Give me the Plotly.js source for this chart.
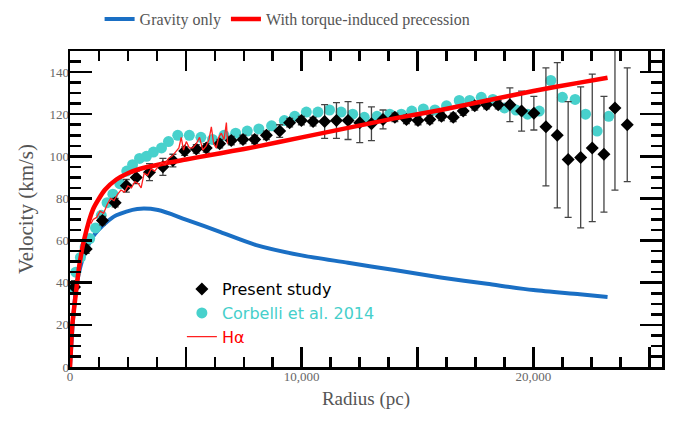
<!DOCTYPE html>
<html>
<head>
<meta charset="utf-8">
<script src="https://cdn.plot.ly/plotly-3.0.1.min.js"></script>
<style>
html,body{margin:0;padding:0;background:#fff;}
#wrap{position:relative;width:676px;height:427px;}
#chart,#frame{position:absolute;left:0;top:0;width:676px;height:427px;}
#frame{pointer-events:none;z-index:5;}
</style>
</head>
<body>
<div id="wrap"><div id="chart"></div><div id="frame"></div></div>
<script>
// ---- data ----
var gravityRadius   = [0, 150, 300, 600, 1000, 1500, 2000, 2900, 3800, 5000, 6500, 8000, 10000, 12000, 14000, 16000, 18000, 20000, 22000, 23200];
var gravityVelocity = [0, 25, 40, 53, 62, 68, 72, 75, 74.5, 70, 64, 58, 53, 49.5, 46, 42.5, 39.5, 36.5, 34.5, 33.2];

var torqueRadius   = [0, 100, 200, 400, 600, 1000, 1500, 2000, 2500, 3000, 4000, 5000, 6000, 7000, 8000, 10000, 12000, 14000, 16000, 18000, 20000, 22000, 23200];
var torqueVelocity = [0, 20, 30, 48, 60, 75, 84, 89, 92, 94, 96.5, 98.5, 100.5, 102.5, 104.5, 109, 113.5, 118, 122, 126.5, 131, 135, 137.3];

var presentRadius   = [194, 700, 1400, 1950, 2430, 2860, 3430, 4010, 4440, 4950, 5450, 5880, 6460, 6960, 7465, 7970, 8475, 9050, 9480, 9985, 10490, 10990, 11500, 12000, 12505, 13010, 13510, 14020, 14520, 15020, 15530, 16030, 16540, 16970, 17470, 17980, 18480, 18985, 19490, 20020, 20540, 21030, 21500, 22040, 22540, 23045, 23520, 24050];
var presentVelocity = [38, 56, 69.5, 78, 86, 90, 92.5, 95, 98, 102.5, 103.5, 104, 106, 107.5, 108, 108, 110, 112, 116, 117, 116.5, 116.5, 117, 117, 116, 115.5, 117.5, 118.5, 117.5, 117, 117.5, 119, 118.5, 121.5, 124, 124.5, 124.5, 124.5, 121.5, 120.5, 114, 110, 98.5, 99.5, 104, 101, 123, 115];
var presentError    = [3, 2, 2, 2, 3, 3, 4, 4, 3, 2, 2, 2, 2, 2, 2, 2, 2, 3, 2, 2, 2, 8, 8.5, 9, 9.5, 8, 4.5, 2, 2, 2, 2, 2, 2, 2, 2, 2, 2, 8, 9.5, 8, 28, 34.5, 27.5, 33.5, 35, 27.5, 39, 27];

var corbelliRadius   = [52, 250, 450, 650, 850, 1100, 1350, 1600, 1850, 2150, 2450, 2700, 3000, 3300, 3600, 3950, 4250, 4650, 5150, 5650, 6150, 6650, 7150, 7650, 8150, 8700, 9250, 9700, 10200, 10700, 11200, 11700, 12200, 12700, 13250, 13800, 14300, 14750, 15250, 15750, 16250, 16800, 17250, 17750, 18250, 18750, 19250, 19750, 20250, 20750, 21250, 21800, 22250, 22750, 23250];
var corbelliVelocity = [37, 45, 52, 57, 61, 66, 72, 78, 82, 87, 93, 96, 99, 100, 102, 104, 107, 110, 110, 109, 108, 110, 111, 112, 113, 114.5, 117, 119, 121, 121, 122, 121, 120, 118.5, 119, 120, 120, 121.5, 122.5, 122, 124, 126.5, 126.5, 128, 127, 123, 122, 120, 121.5, 136, 128, 127, 120, 112, 119];

var haRadius   = [900, 1000, 1150, 1300, 1450, 1600, 1750, 1900, 2050, 2200, 2350, 2500, 2650, 2800, 2950, 3070, 3200, 3350, 3500, 3650, 3800, 3950, 4100, 4250, 4400, 4550, 4700, 4800, 4900, 5020, 5150, 5300, 5450, 5590, 5730, 5880, 6000, 6100, 6200, 6310, 6420, 6530, 6650, 6750, 6800];
var haVelocity = [68, 70, 71, 74, 73, 77, 80, 79, 82, 84, 83, 86, 85, 88, 87, 85, 92, 91, 94, 93, 95, 97, 96, 99, 100, 102, 104, 109, 103, 107, 104, 104, 106, 109, 103, 105, 108, 114, 106, 104, 109, 111, 108, 116, 106];

var xTickVals = [0, 5000, 10000, 15000, 20000, 25000];
var xTickText = ['0', '', '10,000', '', '20,000', ''];

var seriesNames = ['Gravity only', 'With torque-induced precession', 'Present study', 'Corbelli et al. 2014', 'H\u03b1'];

var xRange = [0, 25550];
var yRange = [0, 150];

// ---- traces ----
var serif = 'Liberation Serif, Times New Roman, serif';
var sans = 'DejaVu Sans, sans-serif';
var traces = [
  {x: gravityRadius, y: gravityVelocity, name: seriesNames[0], type: 'scatter', mode: 'lines',
   line: {color: '#1a6fc4', width: 4, shape: 'spline', smoothing: 0.8}, legend: 'legend', legendrank: 1},
  {x: corbelliRadius, y: corbelliVelocity, name: '<span style="color:#46cfcb">' + seriesNames[3] + '</span>',
   type: 'scatter', mode: 'markers', marker: {color: '#48d1cc', size: 11, symbol: 'circle'},
   legend: 'legend2', legendrank: 2},
  {x: presentRadius, y: presentVelocity, name: seriesNames[2], type: 'scatter', mode: 'markers',
   marker: {color: '#000000', size: 10, symbol: 'diamond'},
   error_y: {type: 'data', array: presentError, visible: true, color: '#444444', thickness: 1.3, width: 3.5},
   legend: 'legend2', legendrank: 1},
  {x: torqueRadius, y: torqueVelocity, name: seriesNames[1], type: 'scatter', mode: 'lines',
   line: {color: '#ff0000', width: 4.5, shape: 'spline', smoothing: 0.6}, legend: 'legend', legendrank: 2},
  {x: haRadius, y: haVelocity, name: '<span style="color:#ff0000">' + seriesNames[4] + '</span>',
   type: 'scatter', mode: 'lines', line: {color: '#ff2020', width: 1.3},
   legend: 'legend2', legendrank: 3}
];

var margin = {l: 70, r: 14, t: 51, b: 60, pad: 0};

// base chart: data, tick labels, titles, legends
var layout = {
  width: 676, height: 427, margin: margin,
  paper_bgcolor: '#ffffff', plot_bgcolor: '#ffffff',
  font: {family: serif, color: '#5a5a5a', size: 13},
  xaxis: {
    range: xRange, autorange: false,
    tickmode: 'array', tickvals: xTickVals, ticktext: xTickText,
    ticks: '', showline: false, showgrid: false, zeroline: false,
    tickfont: {family: serif, size: 13, color: '#666'},
    title: {text: 'Radius (pc)', font: {family: serif, size: 19, color: '#555'}, standoff: 8}
  },
  yaxis: {
    range: yRange, autorange: false, dtick: 20, tick0: 0,
    ticks: '', showline: false, showgrid: false, zeroline: false,
    tickfont: {family: serif, size: 13, color: '#666'},
    title: {text: 'Velocity (km/s)', font: {family: serif, size: 21, color: '#555'}, standoff: 10}
  },
  legend: {
    orientation: 'h', x: 0.05, xanchor: 'left', yref: 'container', y: 0.995, yanchor: 'top',
    bgcolor: 'rgba(0,0,0,0)', font: {family: serif, size: 16, color: '#555'}
  },
  legend2: {
    orientation: 'v', x: 0.189, xanchor: 'left', y: 0.30, yanchor: 'top',
    bgcolor: 'rgba(0,0,0,0)', font: {family: sans, size: 16, color: '#000'}
  }
};

// frame chart: the black box with its tick marks, laid over the base chart
var frameLayout = {
  width: 676, height: 427, margin: margin,
  paper_bgcolor: 'rgba(0,0,0,0)', plot_bgcolor: 'rgba(0,0,0,0)',
  showlegend: false,
  xaxis: {
    range: xRange, autorange: false,
    tickmode: 'array', tickvals: xTickVals, showticklabels: false,
    ticks: 'inside', ticklen: 20, tickwidth: 2.5, tickcolor: '#000000',
    minor: {dtick: 1250, ticks: 'inside', ticklen: 10, tickwidth: 2.5, tickcolor: '#000000'},
    showline: true, linecolor: '#000000', linewidth: 2.5, mirror: 'ticks',
    showgrid: false, zeroline: false
  },
  yaxis: {
    range: yRange, autorange: false, dtick: 20, tick0: 0, showticklabels: false,
    ticks: 'inside', ticklen: 22, tickwidth: 2.5, tickcolor: '#000000',
    minor: {dtick: 5, ticks: 'inside', ticklen: 11, tickwidth: 2.5, tickcolor: '#000000'},
    showline: true, linecolor: '#000000', linewidth: 2.5, mirror: 'ticks',
    showgrid: false, zeroline: false
  }
};

Plotly.newPlot('chart', traces, layout, {displayModeBar: false, staticPlot: true});
Plotly.newPlot('frame', [{x: [], y: [], type: 'scatter', mode: 'lines', hoverinfo: 'skip'}], frameLayout,
               {displayModeBar: false, staticPlot: true});
</script>
</body>
</html>
